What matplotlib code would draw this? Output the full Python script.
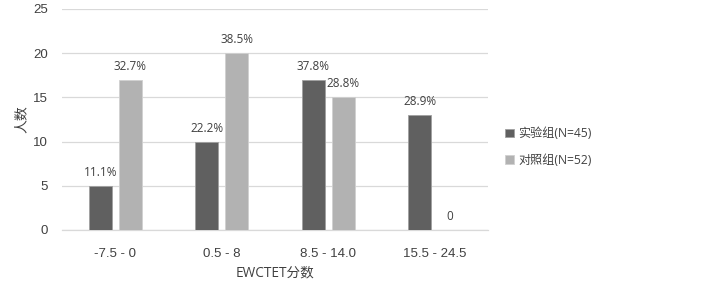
import matplotlib
matplotlib.use("Agg")
import matplotlib.pyplot as plt
import numpy as np

categories = ["-7.5 - 0", "0.5 - 8", "8.5 - 14.0", "15.5 - 24.5"]
series_names = ["实验组(N=45)", "对照组(N=52)"]
exp_counts = [5, 10, 17, 13]
ctrl_counts = [17, 20, 15, 0]
exp_labels = ["11.1%", "22.2%", "37.8%", "28.9%"]
ctrl_labels = ["32.7%", "38.5%", "28.8%", "0"]
yticks = [0, 5, 10, 15, 20, 25]

plt.rcParams['font.family'] = ['Open Sans', 'Noto Sans CJK SC', 'DejaVu Sans']
text_color = "#404040"

fig = plt.figure(figsize=(7.22, 2.88), dpi=100)
ax = fig.add_axes([0.0859, 0.2014, 0.676 - 0.0859, 0.969 - 0.2014])

x = np.arange(len(categories))
w = 0.216
gap = 0.066
off = (w + gap) / 2
b1 = ax.bar(x - off, exp_counts, w, color="#606060", edgecolor="#a0a0a0", linewidth=0.6,
            label=series_names[0], zorder=3)
b2 = ax.bar(x + off, ctrl_counts, w, color="#b2b2b2", edgecolor="#d0d0d0", linewidth=0.6,
            label=series_names[1], zorder=3)

for rect, lab in zip(b1, exp_labels):
    ax.annotate(lab, (rect.get_x() + rect.get_width() / 2, rect.get_height()),
                xytext=(0, 5), textcoords="offset points", ha="center", va="bottom",
                fontsize=8.5, color=text_color)
for rect, lab in zip(b2, ctrl_labels):
    ax.annotate(lab, (rect.get_x() + rect.get_width() / 2, rect.get_height()),
                xytext=(0, 5), textcoords="offset points", ha="center", va="bottom",
                fontsize=8.5, color=text_color)

ax.set_xlim(-0.5, len(categories) - 0.5)
ax.set_ylim(0, 25)
ax.set_yticks(yticks)
ax.set_xticks(x)
ax.set_xticklabels(categories, fontfamily=['Liberation Sans', 'DejaVu Sans'])
ax.tick_params(axis='both', length=0, labelsize=9.5, colors=text_color)
ax.tick_params(axis='x', pad=13)
ax.tick_params(axis='y', pad=10)
for lab in ax.get_yticklabels():
    lab.set_fontfamily(['Liberation Sans', 'DejaVu Sans'])
ax.yaxis.grid(True, color="#d9d9d9", linewidth=0.9, zorder=0)
for s in ["top", "right", "left"]:
    ax.spines[s].set_visible(False)
ax.spines["bottom"].set_color("#d9d9d9")
ax.spines["bottom"].set_linewidth(0.9)

ax.set_xlabel("EWCTET分数", fontsize=9.8, color=text_color, labelpad=4)
ax.set_ylabel("人数", fontsize=10, color=text_color,
              fontfamily=['Noto Sans CJK SC', 'DejaVu Sans'])
ax.yaxis.set_label_coords(-0.078, 0.5)

leg = ax.legend(loc="center left", bbox_to_anchor=(1.015, 0.376), frameon=False,
                fontsize=8.7, handlelength=0.7, handleheight=0.7, handletextpad=0.4,
                labelspacing=1.1, labelcolor=text_color)

fig.savefig("out.png", dpi=100)
